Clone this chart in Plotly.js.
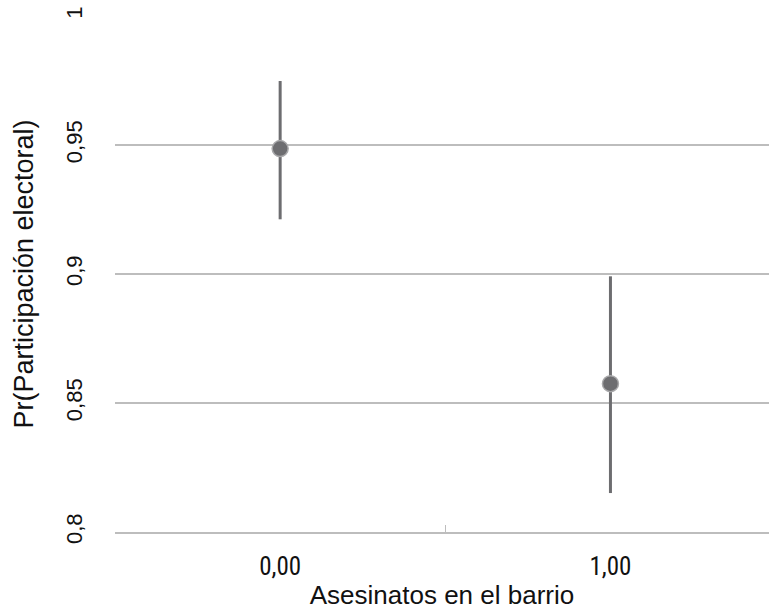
<!DOCTYPE html>
<html>
<head>
<meta charset="utf-8">
<script src="https://cdn.plot.ly/plotly-3.0.1.min.js"></script>
<style>html,body{margin:0;padding:0;background:#fff;}#chart{width:769px;height:611px;}</style>
</head>
<body>
<div id="chart"></div>
<script>
const categories = ["0,00", "1,00"];
const estimates = [0.9486, 0.8575];
const upper = [0.9748, 0.8991];
const lower = [0.9212, 0.8151];
const yTickVals = [0.8, 0.85, 0.9, 0.95, 1];

const errPlus = estimates.map((v, i) => upper[i] - v);
const errMinus = estimates.map((v, i) => v - lower[i]);

const trace = {
  type: "scatter",
  mode: "markers",
  x: categories,
  y: estimates,
  marker: {size: 16, color: "#6d6d70", line: {color: "#a8a8aa", width: 1.5}},
  error_y: {type: "data", symmetric: false, array: errPlus, arrayminus: errMinus,
            color: "#6d6d70", thickness: 3, width: 0},
  cliponaxis: false,
  hoverinfo: "skip"
};

const layout = {
  width: 769, height: 611,
  margin: {l: 115, r: 0, t: 16, b: 79},
  paper_bgcolor: "#ffffff", plot_bgcolor: "#ffffff",
  separators: ",.",
  showlegend: false,
  font: {family: "Liberation Sans, Arial, sans-serif", size: 22, color: "#111"},
  xaxis: {
    type: "category",
    range: [-0.5, 1.48],
    showgrid: false,
    zeroline: false,
    showline: true, linecolor: "#bdbdbd", linewidth: 1.5,
    ticks: "inside", tickson: "boundaries", ticklen: 7, tickcolor: "#bdbdbd", tickwidth: 1.5,
    tickfont: {size: 25, family: "Liberation Sans Narrow, Roboto Condensed, Liberation Sans, Arial, sans-serif"},
    ticklabelstandoff: 11,
    automargin: false,
    title: {text: "Asesinatos en el barrio", font: {size: 26}, standoff: 6}
  },
  yaxis: {
    range: [0.8, 1],
    tickvals: yTickVals,
    showgrid: true, gridcolor: "#bdbdbd", gridwidth: 1.5,
    zeroline: false, showline: false,
    ticks: "",
    tickangle: -90,
    tickfont: {size: 22},
    ticklabelstandoff: 28,
    automargin: false,
    title: {text: "Pr(Participación electoral)", font: {size: 27}, standoff: 20}
  }
};

Plotly.newPlot("chart", [trace], layout, {displayModeBar: false, staticPlot: true});
</script>
</body>
</html>
